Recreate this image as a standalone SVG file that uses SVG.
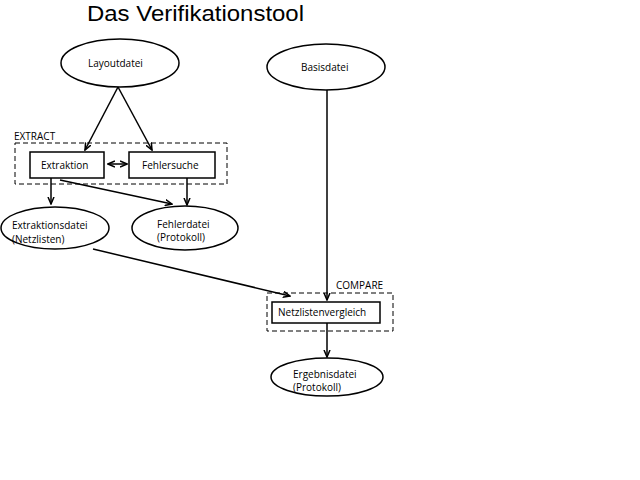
<svg xmlns="http://www.w3.org/2000/svg" width="640" height="480" viewBox="0 0 640 480">
<defs>
<marker id="ah" markerWidth="8" markerHeight="8" refX="7" refY="4" orient="auto" markerUnits="userSpaceOnUse">
<path d="M0,1 L7,4 L0,7" fill="none" stroke="#000" stroke-width="1.5"/>
</marker>
<marker id="as" markerWidth="8" markerHeight="8" refX="1" refY="4" orient="auto" markerUnits="userSpaceOnUse">
<path d="M8,1 L1,4 L8,7" fill="none" stroke="#000" stroke-width="1.5"/>
</marker>
<style>
.t{font-family:"Open Sans","Liberation Sans",sans-serif;font-size:10px;fill:#000}
.n{fill:#fff;stroke:#000;stroke-width:1.5}
.g{fill:none;stroke:#000;stroke-width:1;stroke-dasharray:5,3}
.c{fill:none;stroke:#000;stroke-width:1.5;marker-end:url(#ah)}
</style>
</defs>
<rect width="640" height="480" fill="#fff"/>
<text x="87" y="20.5" textLength="217" lengthAdjust="spacingAndGlyphs" style="font-family:'Liberation Sans',Arial,sans-serif;font-size:22px">Das Verifikationstool</text>
<g id="extract-group">
<rect class="g" x="15" y="143" width="212" height="41"/>
<text class="t" x="14" y="140">EXTRACT</text>
</g>
<g id="compare-group">
<rect class="g" x="267" y="293" width="126" height="38"/>
<text class="t" x="336" y="289">COMPARE</text>
</g>
<g id="connectors">
<line class="c" x1="118" y1="87" x2="85" y2="150"/>
<line class="c" x1="118" y1="87" x2="152" y2="150"/>
<line x1="108" y1="164" x2="127" y2="164" style="fill:none;stroke:#000;stroke-width:1.5;marker-end:url(#ah);marker-start:url(#as)"/>
<line class="c" x1="51" y1="178" x2="51" y2="204"/>
<line class="c" x1="187" y1="178" x2="187" y2="205"/>
<line class="c" x1="60" y1="180" x2="172" y2="204"/>
<line class="c" x1="93" y1="249" x2="290" y2="296"/>
<line class="c" x1="327" y1="89" x2="327" y2="300"/>
<line class="c" x1="327" y1="323" x2="327" y2="357"/>
</g>
<g id="layoutdatei">
<ellipse class="n" cx="120" cy="63" rx="59" ry="24"/>
<text class="t" x="88" y="67">Layoutdatei</text>
</g>
<g id="basisdatei">
<ellipse class="n" cx="326" cy="67" rx="59" ry="23"/>
<text class="t" x="301" y="71">Basisdatei</text>
</g>
<g id="extraktion">
<rect class="n" x="30" y="152" width="74" height="26"/>
<text class="t" x="41" y="169">Extraktion</text>
</g>
<g id="fehlersuche">
<rect class="n" x="129" y="152" width="86" height="26"/>
<text class="t" x="142" y="169">Fehlersuche</text>
</g>
<g id="extraktionsdatei">
<ellipse class="n" cx="55" cy="228" rx="54" ry="21"/>
<text class="t" x="12" y="229">Extraktionsdatei</text>
<text class="t" x="12" y="243">(Netzlisten)</text>
</g>
<g id="fehlerdatei">
<ellipse class="n" cx="185" cy="228" rx="53" ry="22"/>
<text class="t" x="157" y="228">Fehlerdatei</text>
<text class="t" x="157" y="241">(Protokoll)</text>
</g>
<g id="netzlistenvergleich">
<rect class="n" x="272" y="302" width="108" height="21"/>
<text class="t" x="278" y="316">Netzlistenvergleich</text>
</g>
<g id="ergebnisdatei">
<ellipse class="n" cx="327" cy="377" rx="56" ry="19"/>
<text class="t" x="293" y="378">Ergebnisdatei</text>
<text class="t" x="293" y="391">(Protokoll)</text>
</g>
</svg>
